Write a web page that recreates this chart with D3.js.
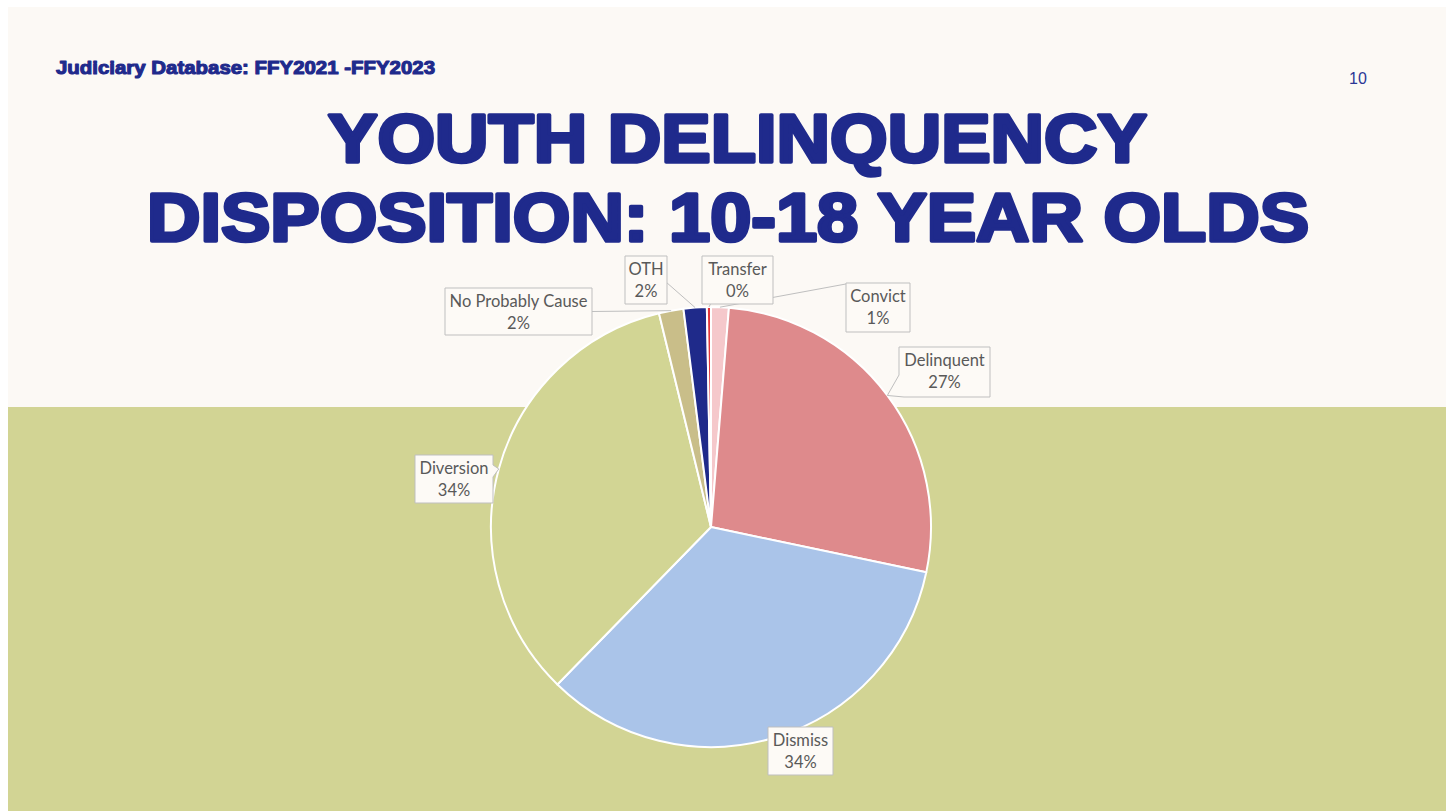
<!DOCTYPE html>
<html>
<head>
<meta charset="utf-8">
<script src="https://cdn.jsdelivr.net/npm/d3@7/dist/d3.min.js"></script>
<style>
  html, body { margin: 0; padding: 0; background: #ffffff; }
  svg { display: block; }
</style>
</head>
<body>
<svg id="chart" width="1453" height="811"></svg>
<script>
// ---------- data ----------
const categories = ["Convict", "Delinquent", "Dismiss", "Diversion", "No Probably Cause", "OTH", "Transfer"];
const values = [1.3, 27.0, 34.0, 33.9, 1.8, 1.7, 0.3];
const colors = ["#f5c8cb", "#de8a8c", "#aac4e9", "#d2d594", "#c9be89", "#1f2a8a", "#e2353a"];
const titleLines = ["YOUTH DELINQUENCY", "DISPOSITION: 10-18 YEAR OLDS"];
const subtitle = "Judiciary Database: FFY2021 -FFY2023";
const pageNumber = "10";

// ---------- layout (label boxes: x, y, w, h, anchor fraction, callout side) ----------
const labelLayout = [
  { x: 846, y: 283, w: 64, h: 49, ax: 0, ay: 0.02, type: "line" },
  { x: 899, y: 347, w: 91, h: 50, type: "calloutLeft" },
  { x: 768, y: 727, w: 65, h: 48, type: "none" },
  { x: 415, y: 455, w: 78, h: 48, type: "calloutRight" },
  { x: 445, y: 288, w: 147, h: 47, ax: 1, ay: 0.5, type: "line" },
  { x: 625, y: 256, w: 42, h: 48, ax: 1, ay: 0.56, type: "line" },
  { x: 702, y: 256, w: 71, h: 48, ax: 0.12, ay: 1, type: "line" }
];

const W = 1453, H = 811;
const svg = d3.select("#chart");

// slide background
svg.append("rect").attr("x", 8).attr("y", 7).attr("width", 1438).attr("height", 400).attr("fill", "#fcf9f5");
svg.append("rect").attr("x", 8).attr("y", 407).attr("width", 1438).attr("height", H - 407).attr("fill", "#d2d494");

// subtitle
svg.append("text")
  .attr("x", 56).attr("y", 74)
  .attr("font-family", "Liberation Sans, Arial, sans-serif")
  .attr("font-weight", "bold").attr("font-size", 19)
  .attr("fill", "#1f2a8c").attr("stroke", "#1f2a8c").attr("stroke-width", 1.1)
  .attr("stroke-linejoin", "round")
  .attr("textLength", 379).attr("lengthAdjust", "spacingAndGlyphs")
  .text(subtitle);

// page number
svg.append("text")
  .attr("x", 1349).attr("y", 84)
  .attr("font-family", "Liberation Sans, Arial, sans-serif")
  .attr("font-size", 16).attr("fill", "#2b3795")
  .text(pageNumber);

// title
const titleSpec = [{ x: 328, y: 162, w: 819 }, { x: 147, y: 241, w: 1162 }];
titleLines.forEach((t, i) => {
  svg.append("text")
    .attr("x", titleSpec[i].x).attr("y", titleSpec[i].y)
    .attr("font-family", "Liberation Sans, Arial, sans-serif")
    .attr("font-weight", "bold").attr("font-size", 69)
    .attr("fill", "#1f2a8c").attr("stroke", "#1f2a8c").attr("stroke-width", 3.6)
    .attr("stroke-linejoin", "round")
    .attr("textLength", titleSpec[i].w).attr("lengthAdjust", "spacingAndGlyphs")
    .text(t);
});

// ---------- pie ----------
const cx = 711, cy = 527, r = 220;
const total = d3.sum(values);
const pct = d3.format(".0%");
const pie = d3.pie().sort(null).value(d => d)(values);
const arc = d3.arc().innerRadius(0).outerRadius(r);

const g = svg.append("g").attr("transform", `translate(${cx},${cy})`);
g.selectAll("path.slice")
  .data(pie)
  .join("path")
  .attr("class", "slice")
  .attr("d", arc)
  .attr("fill", (d, i) => colors[i])
  .attr("stroke", "#ffffff")
  .attr("stroke-width", 2)
  .attr("stroke-linejoin", "round");

// point on slice edge at mid angle
function edgePoint(d) {
  const a = (d.startAngle + d.endAngle) / 2;
  return [cx + r * Math.sin(a), cy - r * Math.cos(a)];
}

const labelG = svg.append("g");
pie.forEach((d, i) => {
  const L = labelLayout[i];
  const tip = edgePoint(d);
  if (L.type === "line") {
    const ax = L.x + L.w * L.ax, ay = L.y + L.h * L.ay;
    labelG.append("line")
      .attr("x1", ax).attr("y1", ay).attr("x2", tip[0]).attr("y2", tip[1])
      .attr("stroke", "#bfbfbf").attr("stroke-width", 1);
  }
  let p;
  const x = L.x, y = L.y, w = L.w, h = L.h;
  if (L.type === "calloutLeft") {
    p = `M${x},${y} H${x + w} V${y + h} H${x + 5} L${tip[0]},${tip[1]} L${x},${y + h - 22} Z`;
  } else if (L.type === "calloutRight") {
    p = `M${x},${y} H${x + w} V${y + 10} L${tip[0]},${tip[1]} L${x + w},${y + 22} V${y + h} H${x} Z`;
  } else {
    p = `M${x},${y} H${x + w} V${y + h} H${x} Z`;
  }
  labelG.append("path")
    .attr("d", p)
    .attr("fill", "#fdfaf6")
    .attr("stroke", "#bfbfbf").attr("stroke-width", 1);
  const t = labelG.append("text")
    .attr("text-anchor", "middle")
    .attr("font-family", "Lato, 'Open Sans', sans-serif")
    .attr("font-size", 16.5)
    .attr("fill", "#595959");
  t.append("tspan").attr("x", x + w / 2).attr("y", y + 19).text(categories[i]);
  t.append("tspan").attr("x", x + w / 2).attr("y", y + 41).text(pct(values[i] / total));
});
</script>
</body>
</html>
